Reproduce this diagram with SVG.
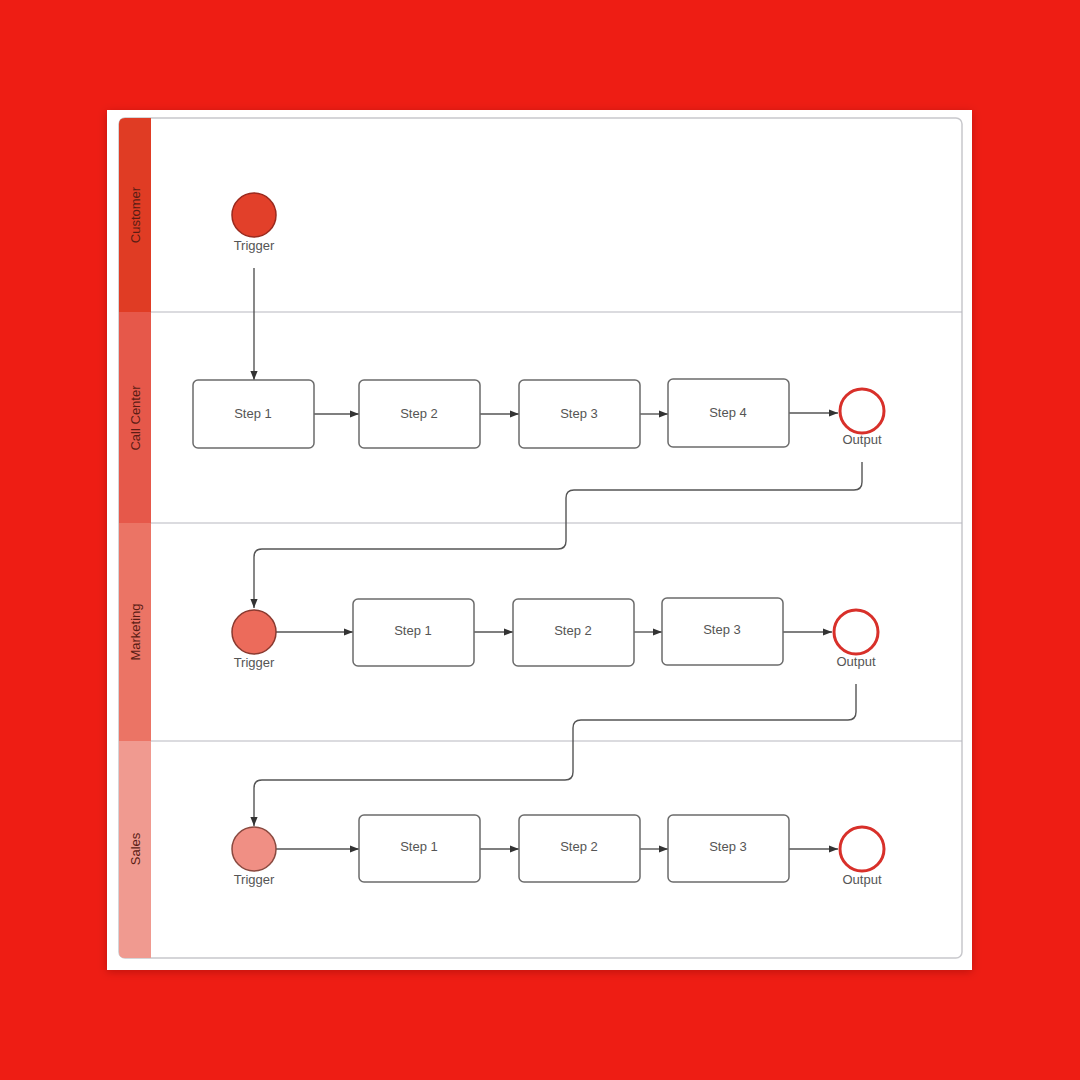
<svg xmlns="http://www.w3.org/2000/svg" width="1080" height="1080" viewBox="0 0 1080 1080">
<defs>
<style>
.step{fill:#fff;stroke:#6b6b6b;stroke-width:1.5}
.t{font-family:"Liberation Sans",Arial,sans-serif;font-size:13px;fill:#555;text-anchor:middle}
.lane{font-family:"Liberation Sans",Arial,sans-serif;font-size:13px;fill:#5a1c14;text-anchor:middle}
.c{fill:none;stroke:#555;stroke-width:1.4}
.out{fill:#fff;stroke:#d8302a;stroke-width:3}
.sep{stroke:#b8b8c0;stroke-width:1.2}
</style>
<marker id="ah" viewBox="0 0 10 10" refX="10" refY="5" markerWidth="9" markerHeight="9" markerUnits="userSpaceOnUse" orient="auto">
<path d="M0,1 L10,5 L0,9 Z" fill="#333"/>
</marker>
<filter id="sh" x="-5%" y="-5%" width="110%" height="110%">
<feDropShadow dx="0" dy="2" stdDeviation="4" flood-color="#600" flood-opacity="0.35"/>
</filter>
</defs>
<rect width="1080" height="1080" fill="#ee1d14"/>
<rect x="107" y="110" width="865" height="860" fill="#fff" filter="url(#sh)"/>
<g id="pool">
<rect x="119" y="118" width="843" height="840" rx="6" fill="#fff" stroke="#c8c8cc" stroke-width="1.5"/>
<line class="sep" x1="151" y1="312" x2="962" y2="312"/>
<line class="sep" x1="151" y1="523" x2="962" y2="523"/>
<line class="sep" x1="151" y1="741" x2="962" y2="741"/>
</g>
<g id="lane-customer">
<path d="M125,118 H151 V312 H119 V124 Q119,118 125,118 Z" fill="#e03c24"/>
<text class="lane" transform="translate(140,215) rotate(-90)">Customer</text>
</g>
<g id="lane-callcenter">
<rect x="119" y="312" width="32" height="211" fill="#e6584a"/>
<text class="lane" transform="translate(140,418) rotate(-90)">Call Center</text>
</g>
<g id="lane-marketing">
<rect x="119" y="523" width="32" height="218" fill="#eb7465"/>
<text class="lane" transform="translate(140,632) rotate(-90)">Marketing</text>
</g>
<g id="lane-sales">
<path d="M119,741 H151 V958 H125 Q119,958 119,952 Z" fill="#f09a90"/>
<text class="lane" transform="translate(140,849) rotate(-90)">Sales</text>
</g>

<g id="connectors">
<line class="c" x1="254" y1="268" x2="254" y2="380" marker-end="url(#ah)"/>
<line class="c" x1="314" y1="414" x2="359" y2="414" marker-end="url(#ah)"/>
<line class="c" x1="480" y1="414" x2="519" y2="414" marker-end="url(#ah)"/>
<line class="c" x1="640" y1="414" x2="668" y2="414" marker-end="url(#ah)"/>
<line class="c" x1="789" y1="413" x2="838" y2="413" marker-end="url(#ah)"/>
<path class="c" d="M862,462 V482 Q862,490 854,490 H574 Q566,490 566,498 V541 Q566,549 558,549 H262 Q254,549 254,557 V608" marker-end="url(#ah)"/>
<line class="c" x1="276" y1="632" x2="353" y2="632" marker-end="url(#ah)"/>
<line class="c" x1="474" y1="632" x2="513" y2="632" marker-end="url(#ah)"/>
<line class="c" x1="634" y1="632" x2="662" y2="632" marker-end="url(#ah)"/>
<line class="c" x1="783" y1="632" x2="832" y2="632" marker-end="url(#ah)"/>
<path class="c" d="M856,684 V712 Q856,720 848,720 H581 Q573,720 573,728 V772 Q573,780 565,780 H262 Q254,780 254,788 V826" marker-end="url(#ah)"/>
<line class="c" x1="276" y1="849" x2="359" y2="849" marker-end="url(#ah)"/>
<line class="c" x1="480" y1="849" x2="519" y2="849" marker-end="url(#ah)"/>
<line class="c" x1="640" y1="849" x2="668" y2="849" marker-end="url(#ah)"/>
<line class="c" x1="789" y1="849" x2="838" y2="849" marker-end="url(#ah)"/>
</g>

<g id="cust-trigger">
<circle cx="254" cy="215" r="22" fill="#e2402a" stroke="#9a2a1e" stroke-width="1.5"/>
<text class="t" x="254" y="250">Trigger</text>
</g>
<g id="cc-step1"><rect class="step" x="193" y="380" width="121" height="68" rx="5"/><text class="t" x="253" y="418">Step 1</text></g>
<g id="cc-step2"><rect class="step" x="359" y="380" width="121" height="68" rx="5"/><text class="t" x="419" y="418">Step 2</text></g>
<g id="cc-step3"><rect class="step" x="519" y="380" width="121" height="68" rx="5"/><text class="t" x="579" y="418">Step 3</text></g>
<g id="cc-step4"><rect class="step" x="668" y="379" width="121" height="68" rx="5"/><text class="t" x="728" y="417">Step 4</text></g>
<g id="cc-output"><circle class="out" cx="862" cy="411" r="22"/><text class="t" x="862" y="444">Output</text></g>

<g id="mk-trigger">
<circle cx="254" cy="632" r="22" fill="#ec6b5b" stroke="#8a3a30" stroke-width="1.5"/>
<text class="t" x="254" y="667">Trigger</text>
</g>
<g id="mk-step1"><rect class="step" x="353" y="599" width="121" height="67" rx="5"/><text class="t" x="413" y="635">Step 1</text></g>
<g id="mk-step2"><rect class="step" x="513" y="599" width="121" height="67" rx="5"/><text class="t" x="573" y="635">Step 2</text></g>
<g id="mk-step3"><rect class="step" x="662" y="598" width="121" height="67" rx="5"/><text class="t" x="722" y="634">Step 3</text></g>
<g id="mk-output"><circle class="out" cx="856" cy="632" r="22"/><text class="t" x="856" y="666">Output</text></g>

<g id="sales-trigger">
<circle cx="254" cy="849" r="22" fill="#f08f84" stroke="#8a4a40" stroke-width="1.5"/>
<text class="t" x="254" y="884">Trigger</text>
</g>
<g id="sales-step1"><rect class="step" x="359" y="815" width="121" height="67" rx="5"/><text class="t" x="419" y="851">Step 1</text></g>
<g id="sales-step2"><rect class="step" x="519" y="815" width="121" height="67" rx="5"/><text class="t" x="579" y="851">Step 2</text></g>
<g id="sales-step3"><rect class="step" x="668" y="815" width="121" height="67" rx="5"/><text class="t" x="728" y="851">Step 3</text></g>
<g id="sales-output"><circle class="out" cx="862" cy="849" r="22"/><text class="t" x="862" y="884">Output</text></g>
</svg>
